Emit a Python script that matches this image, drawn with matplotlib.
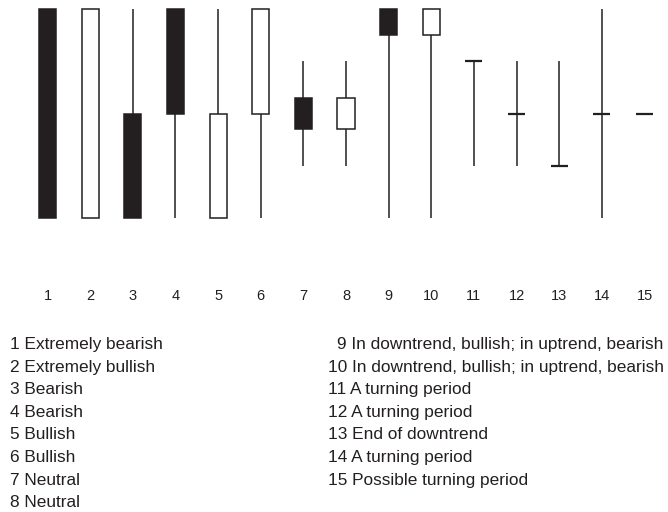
import matplotlib
matplotlib.use("Agg")
import matplotlib.pyplot as plt

plt.rcParams['font.family'] = ['Liberation Sans', 'DejaVu Sans']

positions = list(range(1, 16))
opens  = [10, 0, 5, 10, 0, 5, 5.75, 4.25, 10, 8.75, 7.5, 5, 2.5, 5, 5]
closes = [0, 10, 0, 5, 5, 10, 4.25, 5.75, 8.75, 10, 7.5, 5, 2.5, 5, 5]
highs  = [10, 10, 10, 10, 10, 10, 7.5, 7.5, 10, 10, 7.5, 7.5, 7.5, 10, 5]
lows   = [0, 0, 0, 0, 0, 0, 2.5, 2.5, 0, 0, 2.5, 2.5, 2.5, 0, 5]
descriptions = [
    "Extremely bearish", "Extremely bullish", "Bearish", "Bearish",
    "Bullish", "Bullish", "Neutral", "Neutral",
    "In downtrend, bullish; in uptrend, bearish",
    "In downtrend, bullish; in uptrend, bearish",
    "A turning period", "A turning period", "End of downtrend",
    "A turning period", "Possible turning period",
]

W, H = 668, 512
fig = plt.figure(figsize=(W / 100, H / 100), dpi=100)
ax = fig.add_axes([0, 0, 1, 1])

dark = '#231f20'
spacing = (644.5 - 47.5) / 14
xl = 1 - 47.5 / spacing
xr = 15 + (W - 644.5) / spacing
yscale = 20.9
yb = 0 - (H - 218) / yscale
yt = 10 + 9 / yscale
ax.set_xlim(xl, xr)
ax.set_ylim(yb, yt)
ax.axis('off')

bw = 0.40
for x, o, c, h, l in zip(positions, opens, closes, highs, lows):
    top, bot = max(o, c), min(o, c)
    if h > top:
        ax.vlines(x, top, h, color=dark, lw=1.1, zorder=1)
    if l < bot:
        ax.vlines(x, l, bot, color=dark, lw=1.1, zorder=1)
    if o == c:
        ax.hlines(o, x - bw / 2, x + bw / 2, color=dark, lw=1.6, zorder=2)
    else:
        face = dark if c < o else 'white'
        ax.bar(x, top - bot, bottom=bot, width=bw, color=face,
               edgecolor=dark, linewidth=1.1, zorder=2)
    ax.text(x, (218 - 300) / yscale, str(x), ha='center', va='baseline',
            fontsize=10.5, color=dark)

for i, d in enumerate(descriptions):
    if i < 8:
        xp, yp = 10, 349 + 22.6 * i
    else:
        xp, yp = (337 if i == 8 else 328), 349 + 22.6 * (i - 8)
    fig.text(xp / W, 1 - yp / H, f"{i + 1} {d}", ha='left', va='baseline',
             fontsize=12.4, color=dark)

fig.savefig('out.png', dpi=100)
